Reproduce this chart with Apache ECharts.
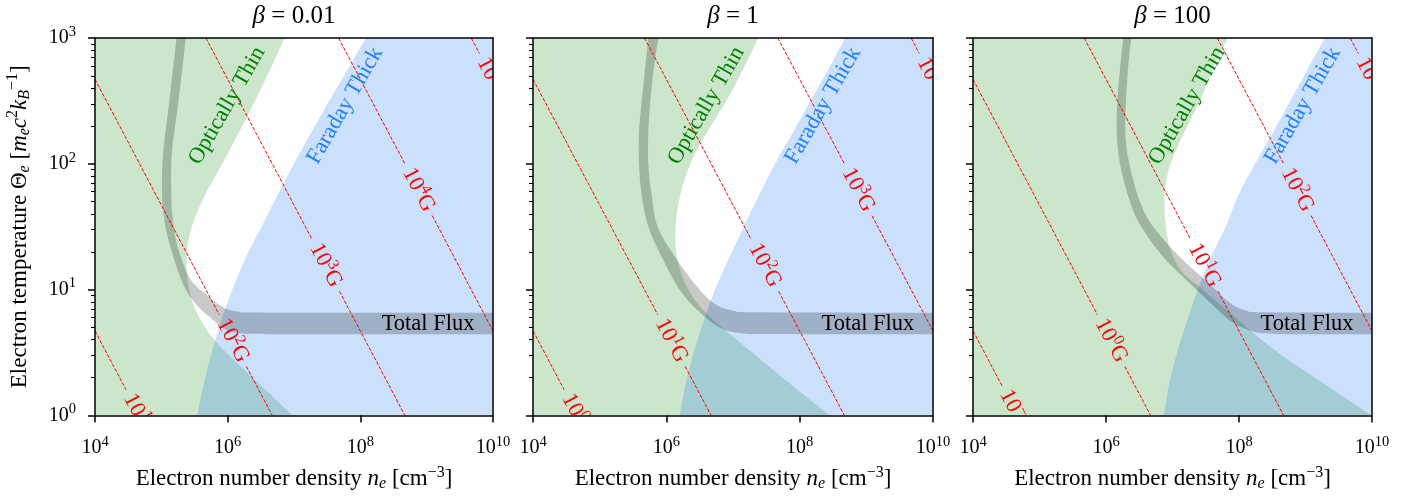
<!DOCTYPE html>
<html><head><meta charset="utf-8">
<script src="https://cdn.jsdelivr.net/npm/echarts@6.0.0/dist/echarts.min.js"></script>
<style>html,body{margin:0;padding:0;background:#fff;}#chart{width:1422px;height:497px;}</style>
</head><body><div id="chart"></div>
<script>
// ---------------- data ----------------
const betaValues = ['0.01', '1', '100'];
const xTickValues = [1e4, 1e6, 1e8, 1e10];
const yTickValues = [1, 10, 100, 1000];
const yMinorTickValues = [2,3,4,5,6,7,8,9,20,30,40,50,60,70,80,90,200,300,400,500,600,700,800,900];

// constant-B contours: end points [n_e, Theta_e] (same lines in every panel)
const fieldLines = [
  [[1e4, 4.7], [4.7e4, 1]],
  [[1e4, 470], [4.7e6, 1]],
  [[4.7e5, 1000], [4.7e8, 1]],
  [[4.7e7, 1000], [1e10, 4.7]],
  [[4.7e9, 1000], [1e10, 470]]
];
const fieldLabelAt = [[4.7e4, 1.0], [1.26e6, 4.0], [3.16e7, 15.8], [7.9e8, 63], [1e10, 470]];
const fieldExponents = [[1, 2, 3, 4, 5], [0, 1, 2, 3, 4], [-1, 0, 1, 2, 3]];

// optically-thin boundary (green region lies at lower n), top -> bottom
const thinBoundary = [
  [[7.24e6,1000],[4.37e6,562],[2.57e6,316],[1.48e6,178],[8.32e5,100],[4.57e5,56.2],[2.88e5,31.6],[2.40e5,17.8],[2.63e5,10],[3.55e5,6.31],[6.31e5,3.98],[1.51e6,2.51],[3.80e6,1.58],[9.55e6,1]],
  [[2.40e7,1000],[1.41e7,562],[7.94e6,316],[4.07e6,178],[2.29e6,100],[1.62e6,56.2],[1.38e6,31.6],[1.45e6,17.8],[2.14e6,10],[4.17e6,6.31],[1.15e7,3.98],[3.31e7,2.51],[9.55e7,1.58],[2.82e8,1]],
  [[6.76e7,1000],[4.07e7,562],[2.57e7,316],[1.51e7,178],[9.33e6,100],[7.76e6,63.1],[7.59e6,44.7],[7.94e6,31.6],[8.91e6,22.4],[1.05e7,17.8],[1.45e7,13.5],[2.57e7,10.5],[6.46e7,6.92],[3.24e8,3.39],[1.82e9,1.82],[1e10,1]]
];
// Faraday-thick boundary (blue region lies at higher n), bottom -> top
const faradayBoundary = [
  [[3.47e5,1],[4.37e5,1.78],[5.75e5,3.16],[7.94e5,5.62],[1.17e6,10],[1.86e6,17.8],[3.24e6,31.6],[5.62e6,56.2],[1.0e7,100],[1.82e7,178],[3.39e7,316],[6.46e7,562],[1.2e8,1000]],
  [[1.58e6,1],[1.95e6,1.78],[2.57e6,3.16],[3.63e6,5.62],[5.37e6,10],[8.71e6,17.8],[1.45e7,31.6],[2.45e7,56.2],[4.27e7,100],[7.94e7,178],[1.45e8,316],[2.69e8,562],[4.79e8,1000]],
  [[7.41e6,1],[8.91e6,1.78],[1.17e7,3.16],[1.66e7,5.62],[2.40e7,10],[3.72e7,17.8],[6.31e7,31.6],[9.77e7,56.2],[1.74e8,100],[3.24e8,178],[5.89e8,316],[1.07e9,562],[1.95e9,1000]]
];
// total-flux band: outer and inner edges, top -> right
const fluxOuter = [
  [[1.70e5,1000],[1.32e5,316],[1.07e5,126],[1.02e5,63.1],[1.10e5,37.2],[1.35e5,22.4],[2.14e5,11.0],[3.39e5,7.59],[6.03e5,5.75],[9.55e5,4.79],[1.58e6,4.52],[3.98e6,4.43],[1e10,4.42]],
  [[5.37e5,1000],[4.79e5,562],[4.27e5,316],[3.89e5,178],[3.89e5,100],[4.27e5,56.2],[5.37e5,31.6],[8.51e5,18.2],[1.58e6,10],[3.16e6,6.61],[6.31e6,5.01],[1.26e7,4.52],[3.16e7,4.44],[1e10,4.42]],
  [[1.82e6,1000],[1.62e6,562],[1.48e6,316],[1.45e6,178],[1.62e6,100],[2.29e6,50.1],[3.39e6,31.6],[7.24e6,18.2],[1.82e7,11.2],[3.98e7,7.59],[7.94e7,5.50],[1.58e8,4.68],[3.98e8,4.45],[1e10,4.42]]
];
const fluxInner = [
  [[2.34e5,1000],[1.82e5,316],[1.45e5,126],[1.41e5,63.1],[1.48e5,37.2],[1.74e5,22.4],[2.69e5,12.3],[4.79e5,9.12],[8.51e5,7.24],[1.41e6,6.70],[3.98e6,6.56],[1e10,6.55]],
  [[7.59e5,1000],[6.46e5,562],[5.75e5,316],[5.37e5,178],[5.37e5,100],[6.03e5,56.2],[7.41e5,31.6],[1.35e6,18.2],[3.16e6,10],[5.62e6,7.59],[1e7,6.84],[2.51e7,6.61],[1e10,6.55]],
  [[2.40e6,1000],[2.14e6,562],[2.0e6,316],[1.95e6,178],[2.24e6,100],[3.24e6,50.1],[5.13e6,31.6],[1.29e7,18.2],[3.55e7,11.2],[7.08e7,7.94],[1.26e8,6.84],[2.51e8,6.61],[1e10,6.55]]
];
// annotation anchors
const thinTextAt = [[9.8e5, 290], [3.98e6, 290], [1.66e7, 290]];
const faradayTextAt = [[5.89e7, 290], [2.24e8, 290], [9.12e8, 290]];
const fluxTextAt = [[5.25e9, 5.37], [5.25e9, 5.37], [5.25e9, 5.37]];

// ---------------- styling / layout ----------------
const FONT = '"Liberation Serif", "Times New Roman", serif';
const grids = [{left: 95, width: 398}, {left: 533, width: 400}, {left: 973, width: 399}];
const GRID_TOP = 38, GRID_H = 380;
const GREEN_FILL = 'rgba(0,128,0,0.2)';
const BLUE_FILL = 'rgba(18,114,246,0.22)';
const BAND_FILL = 'rgba(0,0,0,0.21)';
const TXT = 22.5, SUPTXT = 15.5;
const ANN_ANGLE = 60;

const mctx = document.createElement('canvas').getContext('2d');
function textW(s, size) { mctx.font = size + 'px ' + FONT; return mctx.measureText(s).width; }

const tickRich = {sup: {fontFamily: FONT, fontSize: 14.5, padding: [0, 0, 12, 0]}};
const nameRich = {
  sup: {fontFamily: FONT, fontSize: 16, padding: [0, 0, 13, 0]},
  sub: {fontFamily: FONT, fontSize: 16, fontStyle: 'italic', padding: [10, 0, 0, 0]},
  it: {fontFamily: FONT, fontSize: 23, fontStyle: 'italic'}
};
function expLabel(v) {
  const e = Math.round(Math.log10(v));
  return '10{sup|' + (e < 0 ? '\u2212' + (-e) : e) + '}';
}
function curvePath(p, start) {
  let d = (start ? 'M' : 'L') + p[0][0] + ' ' + p[0][1];
  for (let k = 0; k < p.length - 1; k++) {
    const a = p[k - 1] || p[k], b = p[k], c = p[k + 1], e = p[k + 2] || p[k + 1];
    const c1x = b[0] + (c[0] - a[0]) / 6, c1y = b[1] + (c[1] - a[1]) / 6;
    const c2x = c[0] - (e[0] - b[0]) / 6, c2y = c[1] - (e[1] - b[1]) / 6;
    d += ` C${c1x} ${c1y} ${c2x} ${c2y} ${c[0]} ${c[1]}`;
  }
  return d;
}

const xAxes = [], yAxes = [], series = [], gridOpts = [], graphics = [];
grids.forEach((g, gi) => {
  gridOpts.push({left: g.left, top: GRID_TOP, width: g.width, height: GRID_H, containLabel: false});
  xAxes.push({
    type: 'log', logBase: 10, gridIndex: gi, min: 1e4, max: 1e10, position: 'bottom', z: 10,
    axisLine: {show: true, lineStyle: {color: '#000', width: 1.5}},
    axisTick: {show: true, length: 7, customValues: xTickValues, lineStyle: {color: '#000', width: 1.5}},
    minorTick: {show: false}, splitLine: {show: false},
    axisLabel: {customValues: xTickValues, formatter: expLabel, margin: 19, color: '#000',
      fontFamily: FONT, fontSize: 20, rich: tickRich},
    name: 'Electron number density {it|n}{sub|e} [cm{sup|\u22123}]',
    nameLocation: 'middle', nameGap: 49,
    nameTextStyle: {fontFamily: FONT, fontSize: 23, color: '#000', rich: nameRich}
  });
  xAxes.push({
    type: 'log', logBase: 10, gridIndex: gi, min: 1e4, max: 1e10, position: 'top', z: 10,
    axisLine: {show: true, lineStyle: {color: '#000', width: 1.5}},
    axisTick: {show: false}, axisLabel: {show: false}, splitLine: {show: false}
  });
  yAxes.push({
    type: 'log', logBase: 10, gridIndex: gi, min: 1, max: 1000, position: 'left', z: 10,
    axisLine: {show: true, lineStyle: {color: '#000', width: 1.5}},
    axisTick: {show: true, length: 7, customValues: yTickValues, lineStyle: {color: '#000', width: 1.5}},
    minorTick: {show: false}, splitLine: {show: false},
    axisLabel: {show: gi === 0, customValues: yTickValues, formatter: expLabel, margin: 19, color: '#000',
      fontFamily: FONT, fontSize: 20, rich: tickRich},
    name: gi === 0 ? 'Electron temperature \u0398{sub|e} [{it|m}{sub|e}{it|c}{sup|2}{it|k}{sub|B}{sup|\u22121}]' : '',
    nameLocation: 'middle', nameGap: 61, nameRotate: 90,
    nameTextStyle: {fontFamily: FONT, fontSize: 23, color: '#000', rich: nameRich}
  });
  yAxes.push({
    type: 'log', logBase: 10, gridIndex: gi, min: 1, max: 1000, position: 'left', z: 10,
    axisLine: {show: false},
    axisTick: {show: true, length: 4, customValues: yMinorTickValues, lineStyle: {color: '#000', width: 1.1}},
    axisLabel: {show: false}, splitLine: {show: false}
  });
  yAxes.push({
    type: 'log', logBase: 10, gridIndex: gi, min: 1, max: 1000, position: 'right', z: 10,
    axisLine: {show: true, lineStyle: {color: '#000', width: 1.5}},
    axisTick: {show: false}, axisLabel: {show: false}, splitLine: {show: false}
  });
  const xi = gi * 2, yi = gi * 3;

  // green optically-thin region
  series.push({
    type: 'custom', xAxisIndex: xi, yAxisIndex: yi, clip: true, silent: true, data: thinBoundary[gi],
    renderItem(params, api) {
      if (params.dataIndex !== 0) return null;
      const P = thinBoundary[gi].map(p => api.coord(p));
      let d = curvePath(P, true);
      [[1e4, 1], [1e4, 1000]].forEach(c => { const q = api.coord(c); d += ` L${q[0]} ${q[1]}`; });
      return {type: 'path', shape: {pathData: d + ' Z'}, style: {fill: GREEN_FILL}};
    }
  });
  // blue Faraday-thick region
  series.push({
    type: 'custom', xAxisIndex: xi, yAxisIndex: yi, clip: true, silent: true, data: faradayBoundary[gi],
    renderItem(params, api) {
      if (params.dataIndex !== 0) return null;
      const P = faradayBoundary[gi].map(p => api.coord(p));
      let d = curvePath(P, true);
      [[1e10, 1000], [1e10, 1]].forEach(c => { const q = api.coord(c); d += ` L${q[0]} ${q[1]}`; });
      return {type: 'path', shape: {pathData: d + ' Z'}, style: {fill: BLUE_FILL}};
    }
  });
  // grey total-flux band
  series.push({
    type: 'custom', xAxisIndex: xi, yAxisIndex: yi, clip: true, silent: true, data: fluxOuter[gi],
    renderItem(params, api) {
      if (params.dataIndex !== 0) return null;
      const O = fluxOuter[gi].map(p => api.coord(p));
      const I = fluxInner[gi].map(p => api.coord(p)).reverse();
      const d = curvePath(O, true) + ' ' + curvePath(I, false) + ' Z';
      return {type: 'path', shape: {pathData: d}, style: {fill: BAND_FILL}};
    }
  });
  // constant-B dashed lines with inline labels
  series.push({
    type: 'custom', xAxisIndex: xi, yAxisIndex: yi, clip: true, silent: true, data: fieldLabelAt,
    renderItem(params, api) {
      const j = params.dataIndex;
      const A = api.coord(fieldLines[j][0]), B = api.coord(fieldLines[j][1]);
      const P = api.coord(fieldLabelAt[j]);
      const dx = B[0] - A[0], dy = B[1] - A[1], L = Math.hypot(dx, dy);
      const ux = dx / L, uy = dy / L;
      const t = (P[0] - A[0]) * ux + (P[1] - A[1]) * uy;
      const e = fieldExponents[gi][j];
      const es = e < 0 ? '\u2212' + (-e) : String(e);
      const half = (textW('10G', TXT) + textW(es, SUPTXT)) / 2 + 6;
      const ls = {stroke: '#ff0000', lineWidth: 1, lineDash: [3.7, 1.6]};
      const ch = [];
      if (t - half > 0) ch.push({type: 'line', shape: {x1: A[0], y1: A[1], x2: A[0] + ux * (t - half), y2: A[1] + uy * (t - half)}, style: ls});
      if (t + half < L) ch.push({type: 'line', shape: {x1: A[0] + ux * (t + half), y1: A[1] + uy * (t + half), x2: B[0], y2: B[1]}, style: ls});
      ch.push({type: 'text', x: A[0] + ux * t, y: A[1] + uy * t, rotation: -Math.atan2(dy, dx),
        style: {text: '10{s|' + es + '}G', fill: '#ff0000', fontFamily: FONT, fontSize: TXT,
          align: 'center', verticalAlign: 'middle',
          rich: {s: {fontFamily: FONT, fontSize: SUPTXT, padding: [0, 0, 13, 0]}}}});
      return {type: 'group', children: ch};
    }
  });
  // annotations
  const annData = [thinTextAt[gi], faradayTextAt[gi], fluxTextAt[gi]];
  const annText = ['Optically Thin', 'Faraday Thick', 'Total Flux'];
  const annColor = ['#008000', '#2080ff', '#000000'];
  series.push({
    type: 'custom', xAxisIndex: xi, yAxisIndex: yi, clip: true, silent: true, data: annData,
    renderItem(params, api) {
      const k = params.dataIndex;
      const P = api.coord(annData[k]);
      return {type: 'text', x: P[0], y: P[1], rotation: k < 2 ? ANN_ANGLE * Math.PI / 180 : 0,
        style: {text: annText[k], fill: annColor[k], fontFamily: FONT, fontSize: TXT,
          align: k < 2 ? 'center' : 'right', verticalAlign: 'middle'}};
    }
  });
  graphics.push({
    type: 'text', x: g.left + g.width / 2, y: 16,
    style: {text: '{b|\u03b2} = ' + betaValues[gi], fill: '#000', fontFamily: FONT, fontSize: 25,
      align: 'center', verticalAlign: 'middle',
      rich: {b: {fontFamily: FONT, fontSize: 25, fontStyle: 'italic'}}}
  });
});

const chart = echarts.init(document.getElementById('chart'), null, {renderer: 'canvas'});
chart.setOption({
  animation: false,
  backgroundColor: '#fff',
  grid: gridOpts,
  xAxis: xAxes,
  yAxis: yAxes,
  series: series,
  graphic: graphics
});
</script>
</body></html>
